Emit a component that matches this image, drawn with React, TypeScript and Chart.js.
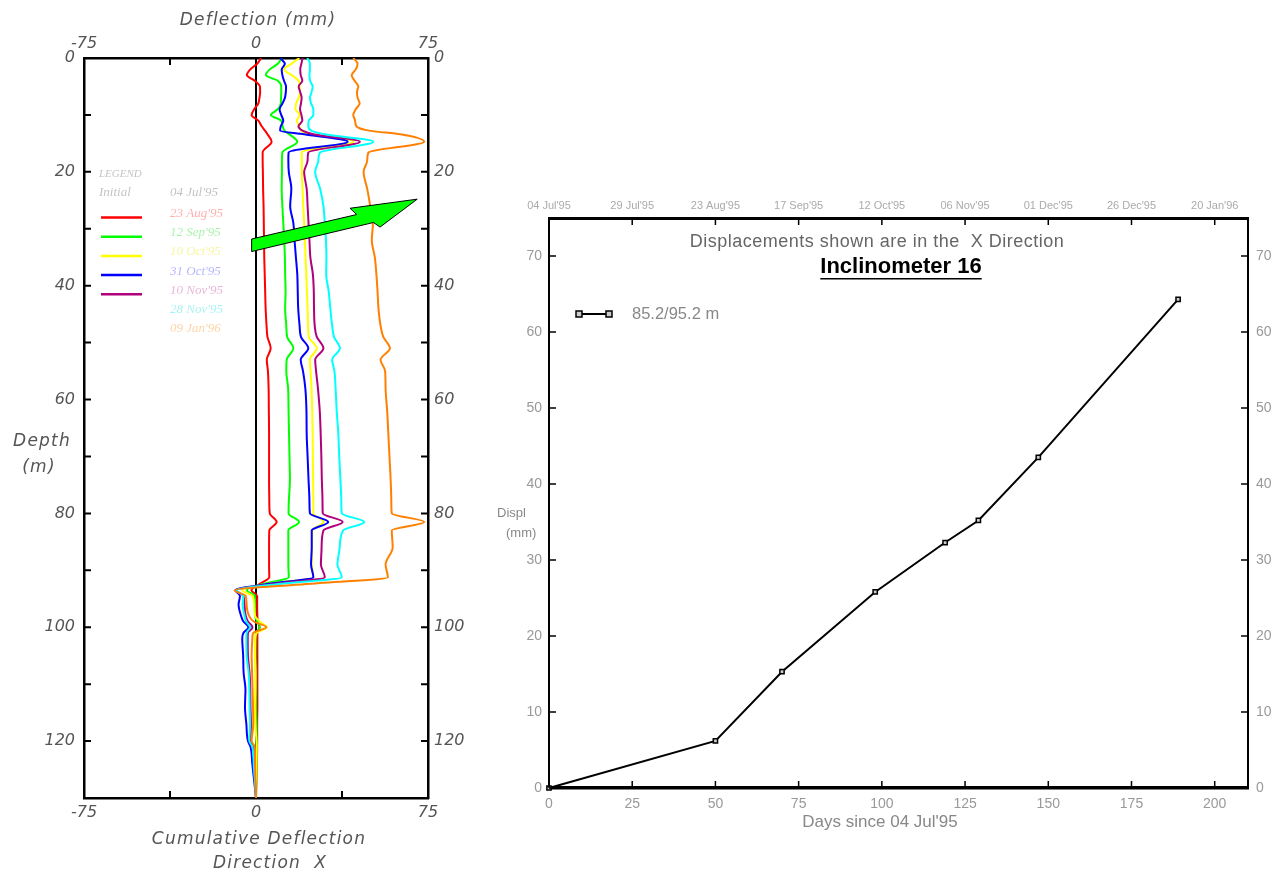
import React, { useEffect, useRef } from "react";
import { Chart, registerables } from "chart.js";

Chart.register(...registerables);

// ---------------- Left chart: cumulative deflection profiles ----------------
const DEPTHS = [
  0, 1, 2, 3, 4, 5, 6, 7, 8, 9, 10, 11, 12, 12.8, 13.4, 14.7, 16.6, 18,
  20, 23, 26, 29, 32, 35, 38, 41, 44, 47,
  49, 51, 53, 55, 58, 62, 66, 70, 74, 78,
  80, 81.5, 83, 86, 89,
  91.2, 92.4, 93.5, 94.5,
  96, 98, 99, 100, 101, 102, 105,
  108, 111, 114, 117, 120, 121, 124, 127, 130,
];

const INITIAL_DEPTHS = [0, 130];
const INITIAL_DEFL = [0, 0];

const DEFL_23AUG95 = [
  2.2, 0.5, -2.5, -4.0, -0.5, 1.7, 1.8, 1.5, 1.0, -0.8, -1.9, 1.0, 2.5, 4.0, 5.0, 6.8, 2.9, 2.9,
  3.0, 3.1, 3.3, 3.4, 3.5, 3.6, 3.8, 4.0, 4.2, 4.6,
  5.0, 6.4, 4.7, 5.2, 5.5, 5.6, 5.7, 5.7, 5.7, 5.8,
  6.0, 9.0, 5.8, 5.7, 5.7,
  5.8, 1.5, -2.0, 0.5,
  0.5, 0.6, 0.8, 1.5, 0.6, 0.6, 0.6,
  0.6, 0.6, 0.6, 0.5, 0.5, 0.5, 0.4, 0.2, 0,
];
const DEFL_12SEP95 = [
  11.2, 9.5, 6.0, 4.3, 9.5, 11.0, 11.0, 10.9, 10.8, 9.5, 6.5, 11.0, 11.6, 12.5, 14.5, 18.0, 11.5, 11.3,
  11.3, 11.2, 11.5, 11.9, 12.3, 12.6, 12.7, 12.9, 12.7, 13.2,
  13.6, 16.3, 13.4, 13.2, 14.0, 14.2, 14.4, 14.6, 14.8, 14.3,
  14.2, 18.8, 14.1, 14.1, 14.1,
  14.3, 3.0, -4.0, -0.5,
  -0.4, -0.4, 0.5, 1.7, 0.0, -0.2, -0.2,
  -0.1, 0, 0, 0.2, 0.3, 0.3, 0.2, 0.1, 0,
];
const DEFL_10OCT95 = [
  18.9, 15.5, 12.2, 15.5, 18.6, 19.0, 19.2, 18.6, 17.5, 17.2, 19.1, 17.8, 19.0, 19.9, 23.0, 42.5, 19.9, 20.0,
  20.0, 20.3, 20.6, 21.0, 21.3, 21.6, 21.9, 22.2, 22.5, 22.7,
  23.0, 26.5, 23.5, 23.8, 24.2, 24.5, 24.7, 24.8, 24.9, 25.0,
  25.0, 29.5, 24.6, 24.4, 24.3,
  25.0, 5.0, -6.0, -1.5,
  -0.8, -0.4, 1.5, 4.7, 0.3, -0.3, -0.4,
  -0.2, -0.3, -0.5, -0.3, 0.2, 0.3, 0.2, 0.1, 0,
];
const DEFL_31OCT95 = [
  10.5, 12.6, 11.2, 11.5, 12.2, 13.1, 13.0, 12.6, 11.5, 10.3, 11.0, 11.9, 10.8, 10.5, 21.0, 40.0, 14.2, 14.1,
  14.3, 15.4, 14.9, 16.3, 16.8, 17.4, 18.0, 18.2, 18.4, 19.0,
  19.6, 22.8, 19.5, 20.5, 21.5, 22.0, 22.1, 22.5, 22.9, 23.3,
  23.5, 31.5, 24.3, 24.3, 24.0,
  25.0, 5.0, -9.0, -7.0,
  -7.6, -6.5, -5.5, -3.3, -5.5, -6.0, -5.6,
  -5.4, -4.6, -4.8, -4.2, -3.5, -2.4, -1.6, -0.8, 0,
];
const DEFL_10NOV95 = [
  20.3, 19.8, 19.3, 19.5, 20.2, 18.6, 19.3, 19.9, 19.6, 19.2, 19.8, 20.2, 18.5, 20.5, 25.0, 45.3, 22.8, 22.5,
  21.0, 22.1, 22.5, 22.9, 23.3, 23.7, 24.8, 25.2, 25.3, 25.6,
  26.5, 29.4, 25.8, 26.2, 27.0, 27.8, 28.2, 28.5, 28.7, 29.0,
  29.1, 37.8, 29.4, 28.6, 28.3,
  30.0, 8.0, -8.5, -5.5,
  -5.0, -4.5, -3.5, -1.5, -3.5, -3.6, -3.5,
  -2.8, -2.5, -2.4, -2.2, -2.4, -1.3, -0.8, -0.4, 0,
];
const DEFL_28NOV95 = [
  22.4, 23.5, 23.5, 23.3, 23.6, 24.7, 24.2, 23.5, 24.0, 25.0, 25.0, 23.0, 22.8, 24.3, 30.0, 51.2, 27.9, 27.2,
  25.8, 28.0, 29.4, 30.0, 30.5, 30.7, 30.6, 31.7, 32.4, 33.2,
  34.0, 36.6, 33.2, 34.2, 34.7, 35.2, 35.9, 36.3, 36.8, 37.2,
  37.4, 47.2, 38.0, 36.5, 35.5,
  37.4, 10.0, -8.5, -5.5,
  -5.8, -5.0, -4.3, -2.6, -4.1, -4.2, -4.1,
  -3.2, -2.9, -2.8, -2.6, -2.9, -1.6, -1.0, -0.5, 0,
];
const DEFL_09JAN96 = [
  42.4, 44.3, 43.5, 41.7, 43.0, 44.6, 44.0, 44.3, 45.2, 43.5, 42.4, 43.2, 43.8, 50.0, 63.0, 73.3, 49.0, 48.5,
  46.9, 48.5, 49.8, 51.0, 50.5, 51.8, 52.5, 53.0, 53.4, 54.3,
  55.5, 58.4, 54.3, 56.3, 56.5, 57.2, 57.7, 58.2, 58.7, 59.0,
  59.2, 73.3, 59.2, 59.6, 56.5,
  57.5, 22.0, -9.4, -4.5,
  -4.1, -3.0, -1.0, 4.5, -1.2, -1.6, -1.9,
  -1.7, -1.5, -1.3, -1.2, -1.9, -0.6, -0.4, -0.2, 0,
];

const LEGEND_INITIAL_DATE = "04 Jul'95";
const LEGEND_DATES = ["23 Aug'95", "12 Sep'95", "10 Oct'95", "31 Oct'95", "10 Nov'95", "28 Nov'95", "09 Jan'96"];
const PROFILE_COLORS = ["#ff0000", "#00ff00", "#ffff00", "#0000ff", "#b0007c", "#00ffff", "#ff8000"];
const LEGEND_TEXT_COLORS = [
  "rgba(255,0,0,0.32)", "rgba(0,220,0,0.35)", "rgba(230,230,0,0.35)", "rgba(0,0,255,0.3)",
  "rgba(176,0,124,0.3)", "rgba(0,220,220,0.35)", "rgba(255,128,0,0.35)",
];
const LEGEND_SWATCH = [true, true, true, true, true, false, false];
const PROFILES = [DEFL_23AUG95, DEFL_12SEP95, DEFL_10OCT95, DEFL_31OCT95, DEFL_10NOV95, DEFL_28NOV95, DEFL_09JAN96];

const DEFL_LABELS = [-75, 0, 75];
const DEFL_MARKS = [-37.5, 37.5];
const DEPTH_LABELS = [0, 20, 40, 60, 80, 100, 120];
const DEPTH_MARKS = [10, 20, 30, 40, 50, 60, 70, 80, 90, 100, 110, 120];

const ARROW_DEFL = [-1.9, 43.9, 41.0, 70.3, 54.1, 51.2, -1.9];
const ARROW_DEPTH = [31.8, 27.5, 26.4, 24.8, 29.7, 28.9, 34.0];

// ---------------- Right chart: displacement vs time ----------------
const DAYS = [0, 50, 70, 98, 119, 129, 147, 189];
const DISPL = [0, 6.2, 15.3, 25.8, 32.3, 35.2, 43.5, 64.3];
const DAY_TICKS = [0, 25, 50, 75, 100, 125, 150, 175, 200];
const DATE_TICK_LABELS = ["04 Jul'95", "29 Jul'95", "23 Aug'95", "17 Sep'95", "12 Oct'95", "06 Nov'95", "01 Dec'95", "26 Dec'95", "20 Jan'96"];
const DISPL_TICKS = [0, 10, 20, 30, 40, 50, 60, 70];
const SERIES_LABEL = "85.2/95.2 m";

const LEFT_FONT = '"DejaVu Sans", Verdana, sans-serif';
const RIGHT_FONT = '"Liberation Sans", Arial, sans-serif';

function setTicks(values: number[]) {
  return (scale: any) => {
    scale.ticks = values.map((v) => ({ value: v }));
  };
}
function fixW(w: number) {
  return (scale: any) => { scale.width = w; };
}
function fixH(h: number) {
  return (scale: any) => { scale.height = h; };
}

const leftDecor = {
  id: "leftDecor",
  afterDatasetsDraw(chart: any) {
    const { ctx } = chart;
    const xs = chart.scales.x;
    const ys = chart.scales.y;
    ctx.save();
    ctx.beginPath();
    ARROW_DEFL.forEach((d, i) => {
      const px = xs.getPixelForValue(d);
      const py = ys.getPixelForValue(ARROW_DEPTH[i]);
      if (i === 0) ctx.moveTo(px, py);
      else ctx.lineTo(px, py);
    });
    ctx.closePath();
    ctx.fillStyle = "#00ff00";
    ctx.fill();
    ctx.strokeStyle = "#000";
    ctx.lineWidth = 1;
    ctx.stroke();
    ctx.restore();
  },
  afterDraw(chart: any) {
    const { ctx } = chart;
    const xs = chart.scales.x;
    const ys = chart.scales.y;
    const { left, right, top, bottom } = chart.chartArea;
    const L = 7;
    ctx.save();
    ctx.strokeStyle = "#000";
    ctx.lineWidth = 2;
    ctx.beginPath();
    for (const v of DEFL_MARKS) {
      const px = xs.getPixelForValue(v);
      ctx.moveTo(px, top); ctx.lineTo(px, top + L);
      ctx.moveTo(px, bottom); ctx.lineTo(px, bottom - L);
    }
    for (const v of DEPTH_MARKS) {
      const py = ys.getPixelForValue(v);
      ctx.moveTo(left, py); ctx.lineTo(left + L, py);
      ctx.moveTo(right, py); ctx.lineTo(right - L, py);
    }
    ctx.stroke();

    // axis titles
    ctx.fillStyle = "#555";
    ctx.textAlign = "center";
    ctx.textBaseline = "middle";
    ctx.font = `italic 17px ${LEFT_FONT}`;
    ctx.letterSpacing = "1.2px";
    ctx.fillText("Deflection (mm)", 258, 21);
    ctx.fillText("Cumulative Deflection", 259, 840);
    ctx.fillText("Direction  X", 270, 864);
    ctx.fillText("Depth", 42, 442);
    ctx.fillText("(m)", 39, 468);
    ctx.letterSpacing = "0px";

    // legend
    ctx.textAlign = "left";
    ctx.font = 'italic 11px "Liberation Serif", "DejaVu Serif", serif';
    ctx.fillStyle = "rgba(0,0,0,0.25)";
    ctx.fillText("LEGEND", 99, 174);
    ctx.font = 'italic 13px "Liberation Serif", "DejaVu Serif", serif';
    ctx.fillText("Initial", 99, 193);
    ctx.fillText(LEGEND_INITIAL_DATE, 170, 193);
    LEGEND_DATES.forEach((d, i) => {
      const y = 213.5 + i * 19.2;
      ctx.fillStyle = LEGEND_TEXT_COLORS[i];
      ctx.fillText(d, 170, y);
      if (LEGEND_SWATCH[i]) {
        ctx.strokeStyle = PROFILE_COLORS[i];
        ctx.lineWidth = 2.5;
        ctx.beginPath();
        ctx.moveTo(101, y + 4);
        ctx.lineTo(142, y + 4);
        ctx.stroke();
      }
    });
    ctx.restore();
  },
};

const rightDecor = {
  id: "rightDecor",
  afterDraw(chart: any) {
    const { ctx } = chart;
    const xs = chart.scales.x;
    const ys = chart.scales.y;
    const { left, right, top, bottom } = chart.chartArea;
    const L = 7;
    ctx.save();
    ctx.strokeStyle = "#000";
    ctx.lineWidth = 1.5;
    ctx.beginPath();
    for (const v of DAY_TICKS) {
      const px = xs.getPixelForValue(v);
      ctx.moveTo(px, bottom); ctx.lineTo(px, bottom - L);
      ctx.moveTo(px, top); ctx.lineTo(px, top + L);
    }
    for (const v of DISPL_TICKS) {
      const py = ys.getPixelForValue(v);
      ctx.moveTo(left, py); ctx.lineTo(left + L, py);
      ctx.moveTo(right, py); ctx.lineTo(right - L, py);
    }
    ctx.stroke();

    ctx.textAlign = "center";
    ctx.textBaseline = "middle";
    ctx.fillStyle = "#666";
    ctx.font = `18px ${RIGHT_FONT}`;
    ctx.letterSpacing = "0.5px";
    ctx.fillText("Displacements shown are in the  X Direction", 387, 242);
    ctx.letterSpacing = "0px";
    ctx.fillStyle = "#000";
    ctx.font = `bold 22px ${RIGHT_FONT}`;
    const sub = "Inclinometer 16";
    ctx.fillText(sub, 411, 267);
    const w = ctx.measureText(sub).width;
    ctx.fillRect(411 - w / 2, 278, w, 1.5);

    ctx.fillStyle = "#888";
    ctx.font = `17px ${RIGHT_FONT}`;
    ctx.fillText("Days since 04 Jul'95", 390, 822);
    ctx.textAlign = "left";
    ctx.font = `13px ${RIGHT_FONT}`;
    ctx.fillText("Displ", 7, 513);
    ctx.fillText("(mm)", 16, 533);

    // legend
    ctx.strokeStyle = "#000";
    ctx.lineWidth = 2;
    ctx.beginPath();
    ctx.moveTo(89, 314);
    ctx.lineTo(119, 314);
    ctx.stroke();
    for (const x of [89, 119]) {
      ctx.fillStyle = "#ccc";
      ctx.fillRect(x - 3, 311, 6, 6);
      ctx.lineWidth = 1.5;
      ctx.strokeRect(x - 3, 311, 6, 6);
    }
    ctx.fillStyle = "#888";
    ctx.font = `16.5px ${RIGHT_FONT}`;
    ctx.fillText(SERIES_LABEL, 142, 314);
    ctx.restore();
  },
};

function leftConfig(): any {
  const tickFont = { family: LEFT_FONT, size: 16, style: "italic" as const };
  const profileSets = PROFILES.map((vals, i) => ({
    label: LEGEND_DATES[i],
    data: vals.map((v, j) => ({ x: v, y: DEPTHS[j] })),
    borderColor: PROFILE_COLORS[i],
    borderWidth: 2,
    pointRadius: 0,
    cubicInterpolationMode: "monotone",
    order: PROFILES.length - i,
  }));
  const initialSet = {
    label: "Initial",
    data: INITIAL_DEFL.map((v, j) => ({ x: v, y: INITIAL_DEPTHS[j] })),
    borderColor: "#000",
    borderWidth: 2,
    pointRadius: 0,
    order: 100,
  };
  const xBase = (pos: string, h: number) => ({
    type: "linear",
    position: pos,
    min: -75,
    max: 75,
    afterBuildTicks: setTicks(DEFL_LABELS),
    afterFit: fixH(h),
    grid: { display: false, drawTicks: false },
    border: { display: true, color: "#000", width: 2.5 },
    ticks: { font: tickFont, color: "#555", padding: 5, maxRotation: 0, autoSkip: false, callback: (v: any) => String(v) },
  });
  const yBase = (pos: string, w: number, pad: number) => ({
    type: "linear",
    position: pos,
    min: 0,
    max: 130,
    reverse: true,
    afterBuildTicks: setTicks(DEPTH_LABELS),
    afterFit: fixW(w),
    grid: { display: false, drawTicks: false },
    border: { display: true, color: "#000", width: 2.5 },
    ticks: { font: tickFont, color: "#555", padding: pad, autoSkip: false, callback: (v: any) => String(v) },
  });
  return {
    type: "line",
    data: { datasets: [...profileSets, initialSet] },
    options: {
      animation: false,
      responsive: false,
      maintainAspectRatio: false,
      indexAxis: "y",
      layout: { padding: 0 },
      plugins: { legend: { display: false }, tooltip: { enabled: false } },
      scales: {
        x: xBase("bottom", 77),
        x2: xBase("top", 58),
        y: yBase("left", 84, 9),
        y2: yBase("right", 42, 6),
      },
    },
    plugins: [leftDecor],
  };
}

function rightConfig(): any {
  const tickFont = { family: RIGHT_FONT, size: 14 };
  return {
    type: "line",
    data: {
      datasets: [
        {
          label: SERIES_LABEL,
          data: DAYS.map((d, i) => ({ x: d, y: DISPL[i] })),
          borderColor: "#000",
          borderWidth: 2,
          pointStyle: "rect",
          pointRadius: 3,
          pointBackgroundColor: "#ccc",
          pointBorderColor: "#000",
          pointBorderWidth: 1.5,
          tension: 0,
          clip: false,
        },
      ],
    },
    options: {
      animation: false,
      responsive: false,
      maintainAspectRatio: false,
      layout: { padding: 0 },
      plugins: { legend: { display: false }, tooltip: { enabled: false } },
      scales: {
        x: {
          type: "linear",
          position: "bottom",
          min: 0,
          max: 210,
          afterBuildTicks: setTicks(DAY_TICKS),
          afterFit: fixH(87),
          grid: { display: false, drawTicks: false },
          border: { display: true, color: "#000", width: 3.5 },
          ticks: { font: tickFont, color: "#999", padding: 8, maxRotation: 0, autoSkip: false, callback: (v: any) => String(v) },
        },
        x2: {
          type: "linear",
          position: "top",
          min: 0,
          max: 210,
          afterBuildTicks: setTicks(DAY_TICKS),
          afterFit: fixH(218),
          grid: { display: false, drawTicks: false },
          border: { display: true, color: "#000", width: 3 },
          ticks: {
            font: { family: RIGHT_FONT, size: 11 },
            color: "#aaa",
            padding: 5,
            maxRotation: 0,
            autoSkip: false,
            callback: (_v: any, i: number) => DATE_TICK_LABELS[i],
          },
        },
        y: {
          type: "linear",
          position: "left",
          min: 0,
          max: 75,
          afterBuildTicks: setTicks(DISPL_TICKS),
          afterFit: fixW(59),
          grid: { display: false, drawTicks: false },
          border: { display: true, color: "#000", width: 2 },
          ticks: { font: tickFont, color: "#999", padding: 7, autoSkip: false, callback: (v: any) => String(v) },
        },
        y2: {
          type: "linear",
          position: "right",
          min: 0,
          max: 75,
          afterBuildTicks: setTicks(DISPL_TICKS),
          afterFit: fixW(40),
          grid: { display: false, drawTicks: false },
          border: { display: true, color: "#000", width: 2 },
          ticks: { font: tickFont, color: "#999", padding: 8, autoSkip: false, callback: (v: any) => String(v) },
        },
      },
    },
    plugins: [rightDecor],
  };
}

export default function App() {
  const leftRef = useRef<HTMLCanvasElement>(null);
  const rightRef = useRef<HTMLCanvasElement>(null);
  useEffect(() => {
    const l = new Chart(leftRef.current as HTMLCanvasElement, leftConfig());
    const r = new Chart(rightRef.current as HTMLCanvasElement, rightConfig());
    return () => {
      l.destroy();
      r.destroy();
    };
  }, []);
  return (
    <div style={{ position: "fixed", left: 0, top: 0, width: 1288, height: 875, background: "#fff" }}>
      <canvas
        ref={leftRef}
        width={470}
        height={875}
        style={{ position: "absolute", left: 0, top: 0, width: 470, height: 875 }}
      />
      <canvas
        ref={rightRef}
        width={798}
        height={875}
        style={{ position: "absolute", left: 490, top: 0, width: 798, height: 875 }}
      />
    </div>
  );
}
